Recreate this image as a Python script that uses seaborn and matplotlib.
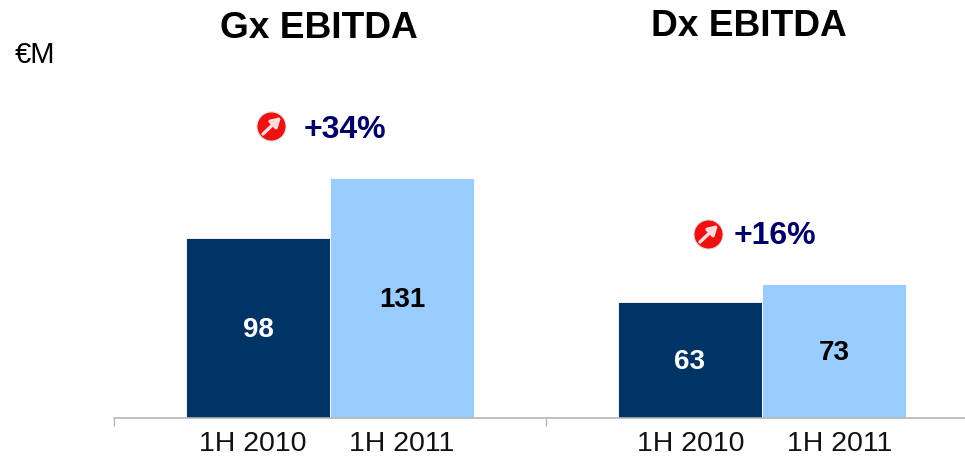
import matplotlib
matplotlib.use("Agg")
import matplotlib.pyplot as plt
from matplotlib.lines import Line2D
from matplotlib.patches import FancyArrowPatch
import pandas as pd
import seaborn as sns

groups = ["Gx EBITDA", "Dx EBITDA"]
periods = ["1H 2010", "1H 2011"]
gx_values = [98, 131]
dx_values = [63, 73]
growth_labels = ["+34%", "+16%"]
unit_label = "€M"

W, H = 965, 459
CAT_W = 432
sns.set_theme(style="white")
plt.rcParams["font.family"] = ["Liberation Sans", "DejaVu Sans"]

df = pd.DataFrame({
    "group": [groups[0]] * 2 + [groups[1]] * 2,
    "period": periods * 2,
    "value": gx_values + dx_values,
})

fig = plt.figure(figsize=(W / 100, H / 100), dpi=100)
ax = fig.add_axes([114 / W, (H - 417.5) / H, (W - 114) / W, 417.5 / H])
ax.patch.set_alpha(0)
sns.barplot(data=df, x="group", y="value", hue="period", hue_order=periods,
            order=groups, palette=["#003366", "#99CCFF"], width=0.667, gap=0,
            saturation=1, legend=False, ax=ax, edgecolor="white", linewidth=0.6)
ax.set_xlim(-0.5, (W - 114) / CAT_W - 0.5)
ax.set_ylim(0, 417.5 / 1.83)
ax.set_xlabel("")
ax.set_ylabel("")
ax.set_yticks([])
for side in ("top", "left", "right"):
    ax.spines[side].set_visible(False)
ax.spines["bottom"].set_color("#b5b5b5")
ax.spines["bottom"].set_linewidth(1.2)

# Group separators as major ticks, period names as unmarked minor ticks
ax.set_xticks([-0.5, 0.5], labels=["", ""])
ax.tick_params(axis="x", which="major", bottom=True, length=6, width=1, color="#b5b5b5")
to_x = lambda px: (px - 114) / CAT_W - 0.5
ax.set_xticks([to_x(253), to_x(402), to_x(691), to_x(840)], labels=periods * 2, minor=True)
ax.tick_params(axis="x", which="minor", bottom=True, length=0, pad=10, labelsize=20.5,
               labelcolor="#111111")

for container, color in zip(ax.containers, ["white", "black"]):
    ax.bar_label(container, label_type="center", color=color, fontsize=20,
                 fontweight="bold", padding=-1.5)


def px_text(x, y, s, **kw):
    fig.text(x / W, 1 - y / H, s, ha="center", va="center", **kw)


px_text(319, 29, groups[0], fontsize=26.7, fontweight="bold", color="black")
px_text(749, 27, groups[1], fontsize=26.7, fontweight="bold", color="black")
px_text(35, 55, unit_label, fontsize=21, color="black")

navy = "#000066"
px_text(345, 130, growth_labels[0], fontsize=23, fontweight="bold", color=navy)
px_text(775, 236, growth_labels[1], fontsize=23, fontweight="bold", color=navy)

for cx, cy in [(271, 126), (708, 234)]:
    fig.add_artist(Line2D([cx / W], [1 - cy / H], transform=fig.transFigure, marker="o",
                          markersize=21, markerfacecolor="#ee1111",
                          markeredgecolor="#dddddd", markeredgewidth=0.8, linestyle="none",
                          zorder=4))
    fig.add_artist(FancyArrowPatch(
        ((cx - 8) / W, 1 - (cy + 8) / H), ((cx + 10) / W, 1 - (cy - 9) / H),
        transform=fig.transFigure, arrowstyle="-|>,head_width=3.2,head_length=5.5",
        color="#ffdcdc", lw=2.4, shrinkA=0, shrinkB=0, mutation_scale=1, zorder=5))

fig.savefig("out.png", dpi=100, facecolor="white")
